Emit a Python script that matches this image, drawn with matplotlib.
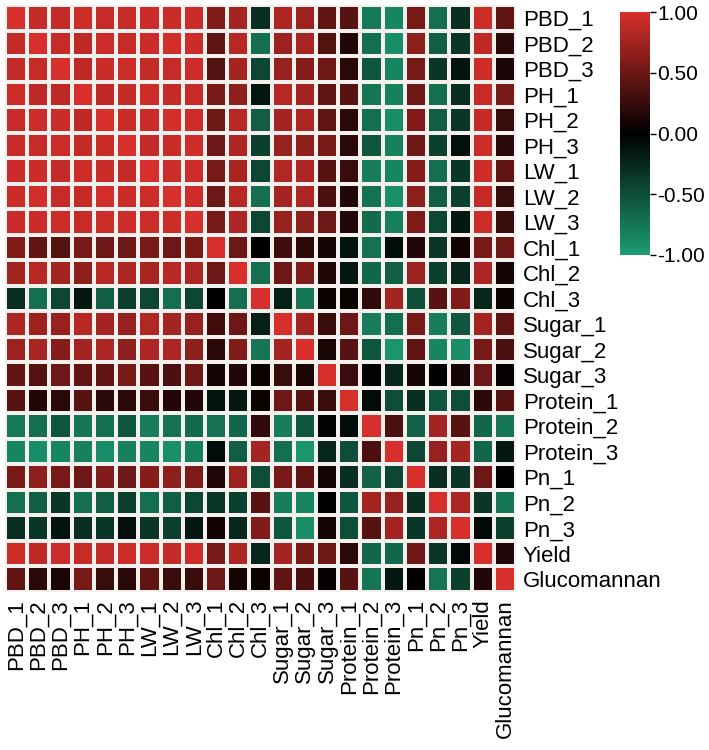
import numpy as np
import matplotlib
matplotlib.use("Agg")
import matplotlib.pyplot as plt
from matplotlib.colors import LinearSegmentedColormap

plt.rcParams['font.family'] = ['Liberation Sans', 'DejaVu Sans']

labels = ["PBD_1", "PBD_2", "PBD_3", "PH_1", "PH_2", "PH_3", "LW_1", "LW_2", "LW_3",
          "Chl_1", "Chl_2", "Chl_3", "Sugar_1", "Sugar_2", "Sugar_3",
          "Protein_1", "Protein_2", "Protein_3", "Pn_1", "Pn_2", "Pn_3",
          "Yield", "Glucomannan"]

# lower triangle of the correlation matrix, row by row
lower = [
    [1.0],
    [0.90, 1.0],
    [0.90, 0.92, 1.0],
    [0.95, 0.88, 0.88, 1.0],
    [0.92, 0.95, 0.93, 0.88, 1.0],
    [0.92, 0.92, 0.95, 0.90, 0.93, 1.0],
    [0.94, 0.94, 0.90, 0.95, 0.93, 0.90, 1.0],
    [0.93, 0.97, 0.92, 0.90, 0.97, 0.93, 0.95, 1.0],
    [0.94, 0.94, 0.95, 0.92, 0.95, 0.96, 0.95, 0.95, 1.0],
    [0.60, 0.45, 0.38, 0.55, 0.50, 0.50, 0.55, 0.50, 0.55, 1.0],
    [0.75, 0.85, 0.75, 0.65, 0.85, 0.80, 0.78, 0.85, 0.80, 0.50, 1.0],
    [-0.30, -0.70, -0.45, -0.15, -0.60, -0.40, -0.45, -0.70, -0.45, 0.0, -0.70, 1.0],
    [0.80, 0.72, 0.70, 0.85, 0.75, 0.70, 0.82, 0.75, 0.70, 0.30, 0.50, -0.20, 1.0],
    [0.72, 0.78, 0.62, 0.75, 0.80, 0.65, 0.80, 0.80, 0.65, 0.20, 0.60, -0.75, 0.75, 1.0],
    [0.45, 0.38, 0.50, 0.45, 0.45, 0.55, 0.40, 0.35, 0.50, 0.10, 0.15, 0.05, 0.25, 0.12, 1.0],
    [0.40, 0.15, 0.20, 0.40, 0.20, 0.20, 0.25, 0.15, 0.15, -0.12, -0.15, 0.05, 0.50, 0.40, 0.25, 1.0],
    [-0.78, -0.70, -0.55, -0.75, -0.70, -0.55, -0.80, -0.72, -0.68, -0.72, -0.65, 0.22, -0.80, -0.55, -0.02, -0.08, 1.0],
    [-0.85, -0.90, -0.85, -0.82, -0.90, -0.82, -0.85, -0.92, -0.82, -0.08, -0.60, 0.75, -0.70, -0.95, -0.25, -0.50, 0.35, 1.0],
    [0.55, 0.65, 0.55, 0.50, 0.60, 0.50, 0.62, 0.65, 0.58, 0.15, 0.72, -0.50, 0.55, 0.45, 0.10, -0.30, -0.62, -0.45, 1.0],
    [-0.70, -0.60, -0.35, -0.70, -0.60, -0.40, -0.70, -0.60, -0.45, -0.35, -0.40, 0.40, -0.80, -0.85, 0.0, -0.55, 0.75, 0.70, -0.30, 1.0],
    [-0.30, -0.35, -0.12, -0.30, -0.35, -0.10, -0.35, -0.40, -0.15, 0.08, -0.25, 0.60, -0.55, -0.90, 0.10, -0.50, 0.40, 0.75, -0.35, 0.80, 1.0],
    [0.95, 0.88, 0.95, 0.92, 0.90, 0.95, 0.95, 0.90, 0.95, 0.55, 0.80, -0.25, 0.75, 0.55, 0.50, 0.20, -0.65, -0.65, 0.50, -0.35, -0.05, 1.0],
    [0.45, 0.20, 0.12, 0.55, 0.25, 0.20, 0.45, 0.25, 0.25, 0.50, 0.10, 0.05, 0.45, 0.35, 0.03, 0.40, -0.75, -0.15, 0.0, -0.75, -0.40, 0.15, 1.0],
]

n = len(labels)
corr = np.zeros((n, n))
for i, row in enumerate(lower):
    for j, v in enumerate(row):
        corr[i, j] = v
        corr[j, i] = v

cmap = LinearSegmentedColormap.from_list("gkr", ["#1c9c72", "#000000", "#d72f2b"])

fig = plt.figure(figsize=(7.09, 7.5), dpi=100)
ax = fig.add_axes([5 / 709, 1 - 592 / 750, 511 / 709, 587 / 750])
mesh = ax.pcolormesh(corr, cmap=cmap, vmin=-1, vmax=1,
                     edgecolors="#f4f0ee", linewidth=1.5)
ax.set_xlim(0, n)
ax.set_ylim(n, 0)
for s in ax.spines.values():
    s.set_visible(False)

ax.set_xticks(np.arange(n) + 0.5)
ax.set_xticklabels(labels, rotation=90, fontsize=16)
ax.set_yticks(np.arange(n) + 0.5)
ax.set_yticklabels(labels, fontsize=16)
ax.yaxis.tick_right()
ax.tick_params(length=0, pad=5)

cax = fig.add_axes([620 / 709, 1 - 255 / 750, 30 / 709, 243 / 750])
cb = fig.colorbar(mesh, cax=cax, ticks=[-1, -0.5, 0, 0.5, 1])
cb.outline.set_visible(False)
cb.ax.set_yticklabels(["%.2f" % t for t in [-1, -0.5, 0, 0.5, 1]], fontsize=15)
cb.ax.tick_params(length=4, width=1, pad=1)

fig.savefig("out.png", dpi=100)
